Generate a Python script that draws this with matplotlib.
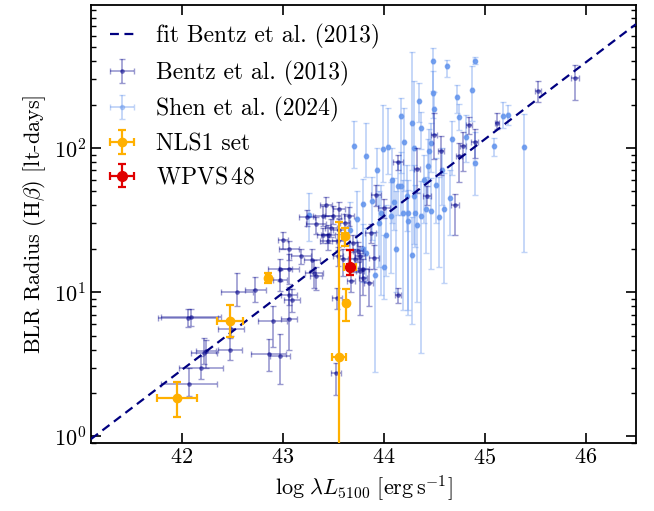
import numpy as np
import matplotlib
matplotlib.use('Agg')
import matplotlib.pyplot as plt
from matplotlib.ticker import NullLocator

# ---------------- data ----------------
# Bentz et al. (2013): log L5100, xerr, R (lt-days), lower err, upper err
bentz_L = [42.06, 42.09, 42.22, 42.24, 42.19, 42.07, 42.48, 42.49, 42.55, 42.73,
           42.86, 42.97, 42.90, 43.06, 43.06, 43.09, 42.97, 43.06, 42.97, 43.06,
           43.18, 43.29, 43.31, 43.33, 43.33, 43.40, 43.50, 43.56, 43.56, 43.40,
           43.45, 43.45, 43.55, 43.55, 43.60, 43.72, 43.77, 43.80, 43.80, 43.75,
           43.54, 43.53, 44.14, 43.90, 43.77, 43.87, 44.00, 44.71, 44.14, 44.33,
           43.92, 44.43, 44.50, 44.57, 44.75, 44.79, 44.85, 44.90, 45.12, 45.53,
           45.90, 43.62, 43.66, 43.48, 43.43, 43.70, 43.68, 43.85, 43.24, 43.00]
bentz_Lerr = [0.30, 0.30, 0.13, 0.10, 0.22, 0.28, 0.12, 0.13, 0.16, 0.10,
              0.17, 0.10, 0.14, 0.08, 0.08, 0.08, 0.12, 0.10, 0.07, 0.10,
              0.10, 0.08, 0.09, 0.06, 0.10, 0.10, 0.08, 0.06, 0.06, 0.06,
              0.07, 0.08, 0.06, 0.05, 0.05, 0.06, 0.05, 0.05, 0.04, 0.05,
              0.05, 0.05, 0.03, 0.05, 0.04, 0.05, 0.06, 0.04, 0.05, 0.03,
              0.05, 0.04, 0.03, 0.03, 0.03, 0.03, 0.03, 0.03, 0.02, 0.03,
              0.04, 0.05, 0.05, 0.06, 0.06, 0.04, 0.04, 0.04, 0.08, 0.05]
bentz_R = [6.6, 6.7, 3.8, 3.9, 3.0, 2.3, 4.0, 5.6, 10.1, 10.3,
           3.75, 3.6, 6.3, 6.5, 9.6, 8.9, 14.4, 14.4, 12.2, 19.8,
           17.8, 16.8, 13.7, 12.9, 29.5, 33.7, 33.7, 37.5, 27.0, 25.1,
           25.1, 22.5, 22.5, 17.7, 16.9, 16.9, 17.8, 14.4, 12.6, 19.3,
           9.15, 2.74, 9.6, 17.4, 14.0, 25.8, 38.5, 40.0, 80.0, 72.0,
           47.6, 46.5, 124.0, 95.5, 88.5, 104.0, 145.0, 110.0, 150.0, 250.0,
           305.0, 30.0, 34.0, 28.0, 40.0, 22.0, 12.0, 11.5, 33.0, 23.0]
bentz_Rlo = [0.9, 0.9, 0.6, 0.9, 0.5, 0.4, 0.6, 0.6, 2.1, 1.8,
             0.9, 1.3, 2.1, 2.5, 1.4, 1.6, 2.5, 3.0, 2.0, 3.0,
             2.0, 2.5, 3.0, 2.5, 4.0, 5.0, 4.0, 5.0, 4.0, 3.0,
             3.0, 3.0, 3.0, 2.5, 4.0, 3.0, 3.0, 2.5, 3.0, 3.0,
             1.5, 0.8, 1.2, 3.0, 7.0, 4.0, 6.0, 15.0, 10.0, 23.0,
             8.0, 6.0, 40.0, 30.0, 30.0, 35.0, 20.0, 25.0, 15.0, 40.0,
             90.0, 5.0, 5.0, 4.0, 6.0, 3.0, 2.0, 3.5, 4.0, 3.0]
bentz_Rhi = [1.0, 0.9, 1.0, 0.8, 0.6, 0.7, 0.8, 0.8, 3.6, 2.4,
             1.0, 1.5, 1.7, 4.0, 1.3, 1.7, 2.5, 4.0, 2.0, 3.0,
             2.0, 3.0, 3.0, 2.0, 4.0, 6.0, 6.0, 5.0, 5.0, 3.0,
             4.0, 3.0, 3.0, 3.0, 3.0, 3.0, 3.0, 2.5, 2.0, 3.0,
             1.5, 0.5, 1.1, 4.0, 4.8, 4.0, 6.0, 8.0, 10.0, 28.0,
             8.0, 8.0, 50.0, 25.0, 20.0, 25.0, 20.0, 25.0, 25.0, 40.0,
             70.0, 5.0, 5.0, 4.0, 6.0, 3.0, 3.0, 3.0, 4.0, 3.0]

# Shen et al. (2024)
shen_L = [43.26, 43.71, 43.83, 43.99, 44.04, 44.17, 44.28, 44.30, 44.35, 44.37,
          44.49, 44.50, 44.63, 44.73, 44.75, 44.88, 44.90, 44.90, 45.09, 45.18,
          45.23, 45.39, 44.45, 44.47, 44.14, 44.17, 44.23, 44.30, 44.31, 44.42,
          44.55, 44.60, 43.80, 43.67, 44.24, 44.24, 43.97, 44.07, 43.91, 44.19,
          44.33, 44.37, 44.47, 43.80, 43.83, 44.49, 44.08, 43.95, 44.02, 44.12,
          43.74, 43.88, 44.40, 44.58, 44.66, 44.52, 44.68, 44.82, 44.20, 43.93,
          44.00, 44.28, 44.10, 44.44]
shen_R = [34.6, 103.0, 88.0, 98.0, 101.0, 167.0, 150.0, 100.0, 212.0, 138.0,
          400.0, 186.0, 370.0, 225.0, 163.0, 253.0, 400.0, 79.0, 103.0, 167.0,
          170.0, 102.0, 95.0, 108.0, 54.4, 54.4, 46.5, 46.5, 35.6, 37.5,
          33.0, 37.5, 40.6, 27.2, 35.5, 31.0, 35.5, 33.6, 13.2, 35.5,
          29.4, 33.7, 36.5, 19.8, 18.8, 242.0, 60.0, 30.0, 25.0, 20.0,
          32.0, 43.0, 60.0, 70.0, 45.0, 55.0, 115.0, 120.0, 110.0, 70.0,
          15.0, 18.0, 42.0, 75.0]
shen_Rlo = [12.0, 30.0, 25.0, 40.0, 35.0, 100.0, 80.0, 50.0, 60.0, 40.0,
            150.0, 60.0, 60.0, 50.0, 30.0, 100.0, 20.0, 32.0, 15.0, 30.0,
            25.0, 83.0, 35.0, 40.0, 20.0, 20.0, 20.0, 25.0, 15.0, 18.7,
            18.0, 26.0, 20.0, 10.0, 28.0, 24.0, 26.0, 20.0, 10.4, 28.0,
            20.8, 29.9, 22.0, 8.0, 7.0, 80.0, 30.0, 15.0, 12.0, 10.0,
            12.0, 20.0, 30.0, 30.0, 20.0, 25.0, 50.0, 40.0, 60.0, 30.0,
            6.0, 12.0, 15.0, 30.0]
shen_Rhi = [14.0, 50.0, 60.0, 100.0, 90.0, 55.0, 310.0, 190.0, 70.0, 40.0,
            95.0, 60.0, 40.0, 50.0, 40.0, 120.0, 30.0, 50.0, 15.0, 40.0,
            30.0, 70.0, 40.0, 40.0, 25.0, 40.0, 30.0, 30.0, 20.0, 25.0,
            30.0, 30.0, 20.0, 15.0, 25.0, 20.0, 20.0, 25.0, 13.0, 25.0,
            20.0, 25.0, 25.0, 10.0, 9.0, 100.0, 40.0, 20.0, 15.0, 30.0,
            18.0, 20.0, 30.0, 30.0, 25.0, 30.0, 40.0, 50.0, 80.0, 30.0,
            10.0, 15.0, 20.0, 40.0]
shen_Lerr = 0.01

# NLS1 set
nls1_L = [41.95, 42.48, 42.85, 43.56, 43.62, 43.63, 43.67]
nls1_Lerr = [0.20, 0.13, 0.02, 0.07, 0.03, 0.02, 0.06]
nls1_R = [1.85, 6.3, 12.6, 3.56, 24.5, 8.4, 15.0]
nls1_Rlo = [0.48, 1.4, 1.0, 3.55, 3.5, 2.1, 1.9]
nls1_Rhi = [0.55, 1.8, 1.0, 27.0, 3.5, 2.2, 4.5]

# WPVS 48
wpvs_L = [43.67]
wpvs_Lerr = [0.03]
wpvs_R = [15.0]
wpvs_Rlo = [1.9]
wpvs_Rhi = [4.5]

# Bentz et al. (2013) R-L fit
fit_K, fit_alpha = 1.527, 0.533
xlim = (41.1, 46.5)
ylim = (0.9, 980)
xticks = [42, 43, 44, 45, 46]

# ---------------- plot ----------------
plt.rcParams.update({
    'font.family': 'serif', 'font.serif': ['cmr10'],
    'mathtext.fontset': 'cm', 'axes.unicode_minus': False,
    'axes.formatter.use_mathtext': True, 'font.size': 16,
})

fig = plt.figure(figsize=(6.54, 5.11), dpi=100)
ax = fig.add_axes([0.139, 0.133, 0.8335, 0.857])

xf = np.linspace(xlim[0], xlim[1], 200)
ax.plot(xf, 10 ** (fit_K + fit_alpha * (xf - 44.0)), ls='--', color='navy',
        lw=1.6, dashes=(4, 2.5), zorder=5, label='fit Bentz et al. (2013)')

ax.errorbar(shen_L, shen_R, xerr=shen_Lerr, yerr=[shen_Rlo, shen_Rhi], fmt='o',
            ms=3, color='cornflowerblue', alpha=0.4, capsize=2, elinewidth=1.3,
            zorder=2, label='Shen et al. (2024)')
ax.plot(shen_L, shen_R, 'o', ms=3, color='cornflowerblue', alpha=0.6, zorder=2)

ax.errorbar(bentz_L, bentz_R, xerr=bentz_Lerr, yerr=[bentz_Rlo, bentz_Rhi], fmt='o',
            ms=2.5, color='darkblue', alpha=0.4, capsize=2, elinewidth=1.2,
            zorder=3, label='Bentz et al. (2013)')

ax.errorbar(nls1_L, nls1_R, xerr=nls1_Lerr, yerr=[nls1_Rlo, nls1_Rhi], fmt='o',
            ms=6, color='#FFB000', capsize=3, elinewidth=1.6, capthick=1.6,
            zorder=6, label='NLS1 set')
ax.errorbar(wpvs_L, wpvs_R, xerr=wpvs_Lerr, yerr=[wpvs_Rlo, wpvs_Rhi], fmt='o',
            ms=7, color='#E00000', capsize=3, elinewidth=1.6, capthick=1.6,
            zorder=7, label=r'WPVS$\,$48')

ax.set_yscale('log')
ax.set_xlim(*xlim)
ax.set_ylim(*ylim)
ax.set_xticks(xticks)
ax.xaxis.set_minor_locator(NullLocator())
ax.tick_params(which='both', direction='in', top=True, right=True, labelsize=16)
ax.tick_params(which='major', length=7, width=1.2)
ax.tick_params(which='minor', length=3.5, width=1.0)
for s in ax.spines.values():
    s.set_linewidth(1.3)

ax.set_xlabel(r'$\log\,\lambda L_{5100}\ [\mathrm{erg\,s^{-1}}]$', fontsize=16)
ax.set_ylabel(r'BLR Radius (H$\beta$) [lt-days]', fontsize=16)

h, l = ax.get_legend_handles_labels()
order = [l.index(n) for n in ['fit Bentz et al. (2013)', 'Bentz et al. (2013)',
                              'Shen et al. (2024)', 'NLS1 set', r'WPVS$\,$48']]
ax.legend([h[i] for i in order], [l[i] for i in order], loc='upper left',
          frameon=False, fontsize=17, handlelength=1.05, handletextpad=0.9,
          borderaxespad=0.4, borderpad=0.4, labelspacing=0.48)

fig.savefig('out.png', dpi=100)
